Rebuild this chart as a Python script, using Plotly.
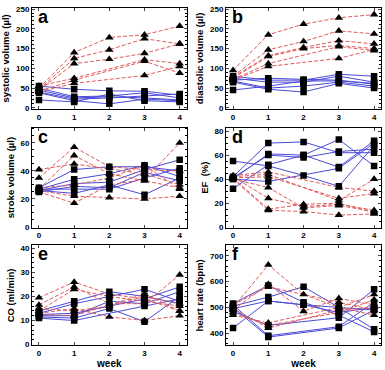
import plotly.graph_objects as go

weeks = [0, 1, 2, 3, 4]
week_ticks = [0, 1, 2, 3, 4]

# ---- panel a: systolic volume (µl)
sys_red = [
    [50, 140, 178, 185, 207],
    [47, 125, 147, 175, 162],
    [45, 112, 123, 138, 162],
    [55, 75, None, 122, 112],
    [42, 70, None, 118, 88],
    [40, 62, None, 82, 105],
]
sys_blue = [
    [55, 47, 43, 42, 32],
    [50, 28, 30, 38, 25],
    [45, 25, 28, 25, 20],
    [40, 22, 25, 30, 35],
    [38, 18, 10, 22, 18],
    [20, 15, 35, 18, 15],
]

# ---- panel b: diastolic volume (µl)
dia_red = [
    [95, 185, 212, 228, 236],
    [80, 147, 168, 195, 187],
    [78, 132, 153, 170, 162],
    [75, 130, 150, 158, 150],
    [72, 112, None, 155, 145],
    [70, 105, None, 125, 148],
]
dia_blue = [
    [80, 70, 70, 85, 80],
    [75, 65, 65, 80, 65],
    [70, 75, 72, 70, 60],
    [68, 50, 55, 65, 55],
    [65, 47, 40, 62, 50],
    [45, 55, 68, 68, 62],
]

# ---- panel c: stroke volume (µl)
sv_red = [
    [41, 45, None, 38, 30],
    [35, 57, 43, 41, 40],
    [27, 51, 38, 33, 28],
    [26, 22, 21, 20, 22],
    [25, 17, 30, 34, 60],
    [28, 30, 35, 44, 27],
]
sv_blue = [
    [28, 41, 43, 43, 40],
    [27, 34, 38, 44, 36],
    [26, 31, 32, 41, 48],
    [25, 29, 28, 39, 33],
    [27, 27, 27, 35, 42],
    [26, 24, 30, 23, 35],
]

# ---- panel d: EF (%)
ef_red = [
    [43, 46, None, 33, 30],
    [42, 44, None, 22, 40],
    [41, 42, None, 24, 28],
    [42, 24, 17, 19, 14],
    [41, 15, 19, 20, 12],
    [40, 14, 13, 10, 11],
    [40, 33, 16, 18, 13],
]
ef_blue = [
    [55, 51, 43, 34, 68],
    [42, 70, 71, 62, 62],
    [40, 61, 60, 73, 51],
    [41, 60, 58, 63, 65],
    [32, 52, 60, 50, 72],
    [40, 38, None, 49, 70],
]

# ---- panel e: CO (ml/min)
co_red = [
    [19.5, 26, 21, 19, 14],
    [16.5, 24, 17, 17, 29],
    [14, 23, 20, 18, 16],
    [13, 15, 11.5, 10, 12],
    [15, 14, 16, 20, 17],
    [12.5, 12, None, 21, 14],
]
co_blue = [
    [14, 18, 22, 20, 17],
    [13, 17, 20, 23, 18],
    [12.5, 13, 16, 19, 24],
    [12, 12, 18, 17, 22],
    [11.5, 11, 15, 9.5, 20],
    [11, 10, None, 16, 19],
]

# ---- panel f: heart rate (bpm)
hr_red = [
    [500, 665, 550, 500, 470],
    [490, 590, 485, 535, 510],
    [510, 580, None, 520, 490],
    [470, 440, None, 500, 550],
    [480, 430, None, 480, 530],
    [495, 420, None, 490, 500],
]
hr_blue = [
    [515, 585, 520, 470, 405],
    [505, 540, 580, 500, 415],
    [495, 525, 510, 480, 500],
    [485, 430, None, 460, 570],
    [420, 525, 510, 500, 490],
    [510, 390, None, 425, 520],
    [500, 385, None, 420, 490],
]

panels = [
    ("a", "systolic volume (µl)", sys_red, sys_blue, [-3, 253], 50, 10),
    ("b", "diastolic volume (µl)", dia_red, dia_blue, [-3, 253], 50, 10),
    ("c", "stroke volume (µl)", sv_red, sv_blue, [-0.5, 71], 20, 5),
    ("d", "EF  (%)", ef_red, ef_blue, [-0.5, 83], 20, 5),
    ("e", "CO (ml/min)", co_red, co_blue, [-0.3, 41.2], 10, 2),
    ("f", "heart rate (bpm)", hr_red, hr_blue, [353, 740], 100, 20),
]

RED = "#e25a5a"
BLUE = "#4a4ad8"
FONT = "Liberation Sans, Arial, sans-serif"

xdom = [[0.083, 0.485], [0.587, 0.99]]
ydom = [[0.708, 0.9865], [0.381, 0.657], [0.057, 0.332]]

fig = go.Figure()
layout_axes = {}
for i, (letter, title, red, blue, yr, dt, mdt) in enumerate(panels):
    r, c = divmod(i, 2)
    n = i + 1
    xa = "x" if n == 1 else f"x{n}"
    ya = "y" if n == 1 else f"y{n}"
    xkey = "xaxis" if n == 1 else f"xaxis{n}"
    ykey = "yaxis" if n == 1 else f"yaxis{n}"
    for s in blue:
        fig.add_trace(go.Scatter(x=weeks, y=s, mode="lines", connectgaps=True,
                                 line=dict(color=BLUE, width=1),
                                 xaxis=xa, yaxis=ya, showlegend=False, hoverinfo="skip"))
    for s in red:
        fig.add_trace(go.Scatter(x=weeks, y=s, mode="lines", connectgaps=True,
                                 line=dict(color=RED, width=1, dash="4px,2px"),
                                 xaxis=xa, yaxis=ya, showlegend=False, hoverinfo="skip"))
    for s in blue:
        fig.add_trace(go.Scatter(x=weeks, y=s, mode="markers",
                                 marker=dict(symbol="square", size=6.5, color="black"),
                                 xaxis=xa, yaxis=ya, showlegend=False))
    for s in red:
        fig.add_trace(go.Scatter(x=weeks, y=s, mode="markers",
                                 marker=dict(symbol="triangle-up", size=7.5, color="black"),
                                 xaxis=xa, yaxis=ya, showlegend=False))
    layout_axes[xkey] = dict(
        domain=xdom[c], anchor=ya, range=[-0.2, 4.2], tickvals=week_ticks,
        ticks="inside", ticklen=3, mirror="allticks", showline=True,
        linecolor="black", linewidth=1, showgrid=False, zeroline=False,
        tickfont=dict(family=FONT, size=8, color="black", weight="bold"),
        title=dict(text="week" if r == 2 else "", standoff=2,
                   font=dict(family=FONT, size=10, color="black", weight="bold")),
    )
    layout_axes[ykey] = dict(
        domain=ydom[r], anchor=xa, range=yr, dtick=dt, tick0=0,
        ticks="inside", ticklen=3, mirror="allticks", showline=True,
        linecolor="black", linewidth=1, showgrid=False, zeroline=False,
        minor=dict(dtick=mdt, ticks="inside", ticklen=2, tickcolor="black"),
        tickfont=dict(family=FONT, size=8, color="black", weight="bold"),
        title=dict(text=title, standoff=4,
                   font=dict(family=FONT, size=9.5, color="black", weight="bold")),
    )
    fig.add_annotation(text=letter, xref=f"{xa} domain", yref=f"{ya} domain",
                       x=0.025, y=1.03, xanchor="left", yanchor="top", showarrow=False,
                       font=dict(family=FONT, size=18, color="black", weight="bold"))

fig.update_layout(
    width=385, height=370, margin=dict(l=0, r=0, t=0, b=0),
    paper_bgcolor="white", plot_bgcolor="white", **layout_axes,
)
fig.write_html("out.html")
